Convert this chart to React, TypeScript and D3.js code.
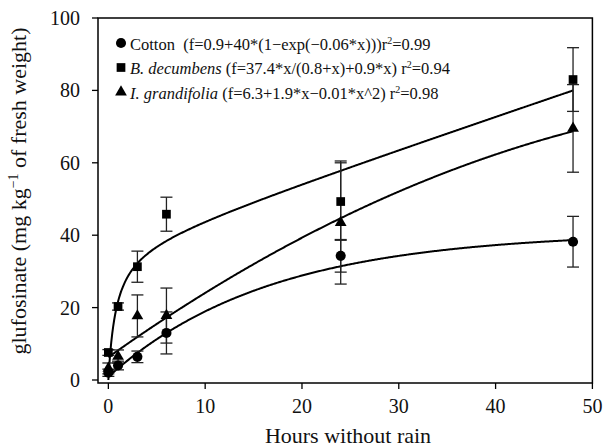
import React from "react";
import * as d3 from "d3";

const hours = [0, 1, 3, 6, 24, 48];
const cotton = [2.0, 4.0, 6.4, 13.0, 34.3, 38.2];
const cottonErr = [1.0, 1.2, 1.6, 5.8, 4.5, 7.0];
const bdec = [7.6, 20.3, 31.3, 45.8, 49.3, 83.0];
const bdecErr = [0.8, 1.0, 4.3, 4.7, 10.7, 8.8];
const igr = [3.2, 6.5, 17.7, 17.8, 43.5, 69.5];
const igrErr = [1.5, 1.8, 5.8, 7.6, 17.0, 12.1];

// fitted model coefficients
const cottonFit = [0.9, 40, -0.06];
const bdecFit = [37.4, 0.8, 0.9];
const igrFit = [6.3, 1.9, -0.0125];

const xTicks = [0, 10, 20, 30, 40, 50];
const yTicks = [0, 20, 40, 60, 80, 100];

const W = 603, H = 448;
const FONT = "Liberation Serif";

export default function App() {
  const x = d3.scaleLinear().domain([-1.07, 50]).range([98, 592.4]);
  const y = d3.scaleLinear().domain([0, 100]).range([380, 18]);
  const yBottom = 383;
  const yTop = y(100);

  const samples = d3.range(0, 48.001, 0.1);
  const fCot = (t: number) => cottonFit[0] + cottonFit[1] * (1 - Math.exp(cottonFit[2] * t));
  const fB = (t: number) => (bdecFit[0] * t) / (bdecFit[1] + t) + bdecFit[2] * t;
  const fI = (t: number) => igrFit[0] + igrFit[1] * t + igrFit[2] * t * t;
  const line = (f: (t: number) => number) =>
    d3.line<number>().x((t) => x(t)).y((t) => y(f(t)))(samples) || "";

  const circle = d3.symbol().type(d3.symbolCircle).size(80)() || "";
  const square = d3.symbol().type(d3.symbolSquare).size(76)() || "";
  const tri = d3.symbol().type(d3.symbolTriangle).size(60)() || "";

  const series = [
    { vals: igr, err: igrErr, sym: tri },
    { vals: bdec, err: bdecErr, sym: square },
    { vals: cotton, err: cottonErr, sym: circle },
  ];

  const cap = 6;
  const legendY = [44, 68.5, 93];
  const tf = { fontFamily: FONT, fill: "#111" } as const;

  return (
    <svg width={W} height={H} style={{ position: "absolute", left: 0, top: 0 }}>
      <rect x={0} y={0} width={W} height={H} fill="#fff" />
      <rect x={98} y={yTop} width={592.4 - 98} height={yBottom - yTop} fill="none" stroke="#000" strokeWidth={1.5} />
      {yTicks.map((t) => (
        <g key={"y" + t}>
          <line x1={92} x2={98} y1={y(t)} y2={y(t)} stroke="#000" strokeWidth={1.3} />
          <text {...tf} x={80} y={y(t)} dy="0.35em" textAnchor="end" fontSize={20}>{t}</text>
        </g>
      ))}
      {xTicks.map((t) => (
        <g key={"x" + t}>
          <line x1={x(t)} x2={x(t)} y1={yBottom} y2={yBottom + 6} stroke="#000" strokeWidth={1.3} />
          <text {...tf} x={x(t)} y={413} textAnchor="middle" fontSize={20}>{t}</text>
        </g>
      ))}
      <text {...tf} x={348} y={443} textAnchor="middle" fontSize={22}>Hours without rain</text>
      <text {...tf} transform={`translate(26,191) rotate(-90)`} textAnchor="middle" fontSize={22}>
        glufosinate (mg kg<tspan dy="-8" fontSize={14}>−1</tspan><tspan dy="8"> of fresh weight)</tspan>
      </text>
      <path d={line(fCot)} fill="none" stroke="#000" strokeWidth={2} />
      <path d={line(fB)} fill="none" stroke="#000" strokeWidth={2} />
      <path d={line(fI)} fill="none" stroke="#000" strokeWidth={2} />
      {series.map((s, si) =>
        hours.map((h, i) => {
          const cx = x(h);
          const lo = y(s.vals[i] - s.err[i]);
          const hi = y(s.vals[i] + s.err[i]);
          return (
            <g key={`e${si}-${i}`} stroke="#222" strokeWidth={1.3}>
              <line x1={cx} x2={cx} y1={lo} y2={hi} />
              <line x1={cx - cap} x2={cx + cap} y1={lo} y2={lo} />
              <line x1={cx - cap} x2={cx + cap} y1={hi} y2={hi} />
            </g>
          );
        })
      )}
      {series.map((s, si) =>
        hours.map((h, i) => (
          <path key={`m${si}-${i}`} d={s.sym} transform={`translate(${x(h)},${y(s.vals[i])})`} fill="#000" />
        ))
      )}
      <path d={circle} transform={`translate(121,${legendY[0] - 1})`} fill="#000" />
      <path d={square} transform={`translate(121,${legendY[1] - 1})`} fill="#000" />
      <path d={tri} transform={`translate(121,${legendY[2] - 1})`} fill="#000" />
      <text {...tf} x={130} y={legendY[0]} dy="0.35em" fontSize={16.5}>
        Cotton{"\u00a0\u00a0"}(f=0.9+40*(1−exp(−0.06*x)))r<tspan dy="-6" fontSize={10}>2</tspan><tspan dy="6">=0.99</tspan>
      </text>
      <text {...tf} x={130} y={legendY[1]} dy="0.35em" fontSize={16.5}>
        <tspan fontStyle="italic">B. decumbens</tspan> (f=37.4*x/(0.8+x)+0.9*x) r<tspan dy="-6" fontSize={10}>2</tspan><tspan dy="6">=0.94</tspan>
      </text>
      <text {...tf} x={130} y={legendY[2]} dy="0.35em" fontSize={16.5}>
        <tspan fontStyle="italic">I. grandifolia</tspan> (f=6.3+1.9*x−0.01*x^2) r<tspan dy="-6" fontSize={10}>2</tspan><tspan dy="6">=0.98</tspan>
      </text>
    </svg>
  );
}
